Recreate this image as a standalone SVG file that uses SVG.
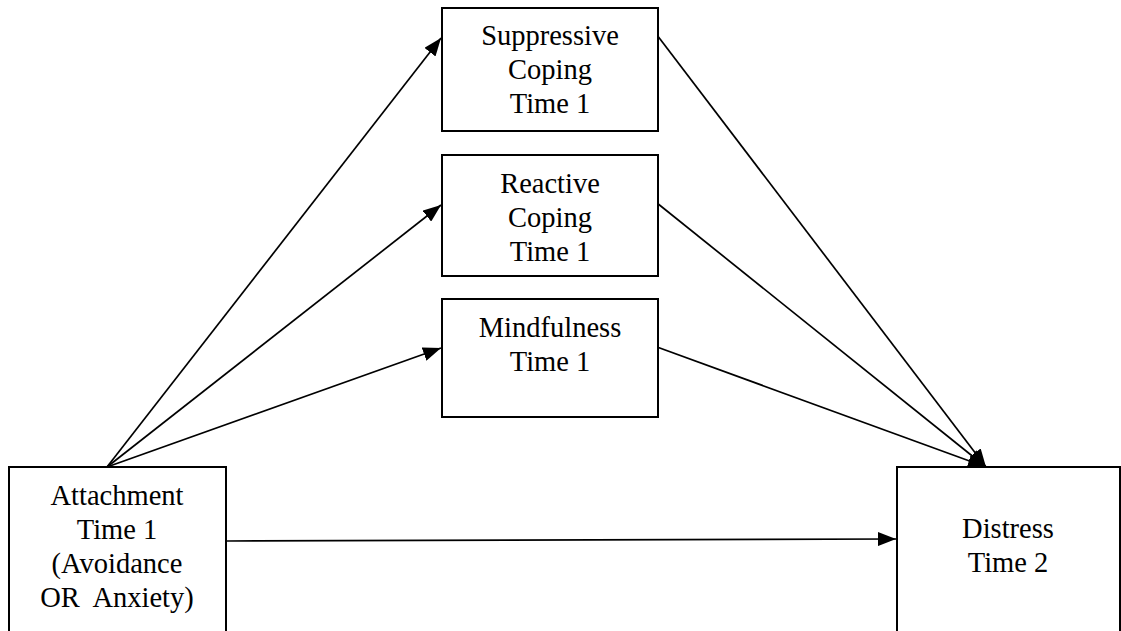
<svg xmlns="http://www.w3.org/2000/svg" width="1121" height="631" viewBox="0 0 1121 631">
<style>
.box{fill:#fff;stroke:#000;stroke-width:2}
.lbl{font-family:"Liberation Serif","Times New Roman",serif;font-size:28.5px;fill:#000;text-anchor:middle;white-space:pre}
.edge{stroke:#000;stroke-width:1.7;fill:none;marker-end:url(#ah)}
</style>
<defs>
<marker id="ah" markerUnits="userSpaceOnUse" viewBox="0 0 18 14" refX="18" refY="7" markerWidth="18" markerHeight="14" orient="auto">
<path d="M0,0 L18,7 L0,14 Z" fill="#000"/>
</marker>
</defs>
<rect width="1121" height="631" fill="#fff"/>
<g id="connectors">
<line class="edge" x1="107" y1="467" x2="441" y2="38"/>
<line class="edge" x1="107" y1="467" x2="441" y2="205"/>
<line class="edge" x1="107" y1="467" x2="441" y2="348"/>
<line class="edge" x1="227" y1="541" x2="896" y2="539"/>
<line class="edge" x1="657" y1="35" x2="986" y2="467"/>
<line class="edge" x1="657" y1="203" x2="986" y2="467"/>
<line class="edge" x1="657" y1="347" x2="986" y2="467"/>
</g>
<g id="suppressive">
<rect class="box" x="442" y="8" width="216" height="123"/>
<text class="lbl" x="550" y="45">Suppressive</text>
<text class="lbl" x="550" y="79">Coping</text>
<text class="lbl" x="550" y="113">Time 1</text>
</g>
<g id="reactive">
<rect class="box" x="442" y="155" width="216" height="121"/>
<text class="lbl" x="550" y="193">Reactive</text>
<text class="lbl" x="550" y="227">Coping</text>
<text class="lbl" x="550" y="261">Time 1</text>
</g>
<g id="mindfulness">
<rect class="box" x="442" y="299" width="216" height="118"/>
<text class="lbl" x="550" y="337">Mindfulness</text>
<text class="lbl" x="550" y="371">Time 1</text>
</g>
<g id="attachment">
<rect class="box" x="9" y="467" width="217" height="180"/>
<text class="lbl" x="117" y="505">Attachment</text>
<text class="lbl" x="117" y="539">Time 1</text>
<text class="lbl" x="117" y="573">(Avoidance</text>
<text class="lbl" x="117" y="607">OR  Anxiety)</text>
</g>
<g id="distress">
<rect class="box" x="897" y="467" width="223" height="200"/>
<text class="lbl" x="1008" y="538">Distress</text>
<text class="lbl" x="1008" y="572">Time 2</text>
</g>
</svg>
